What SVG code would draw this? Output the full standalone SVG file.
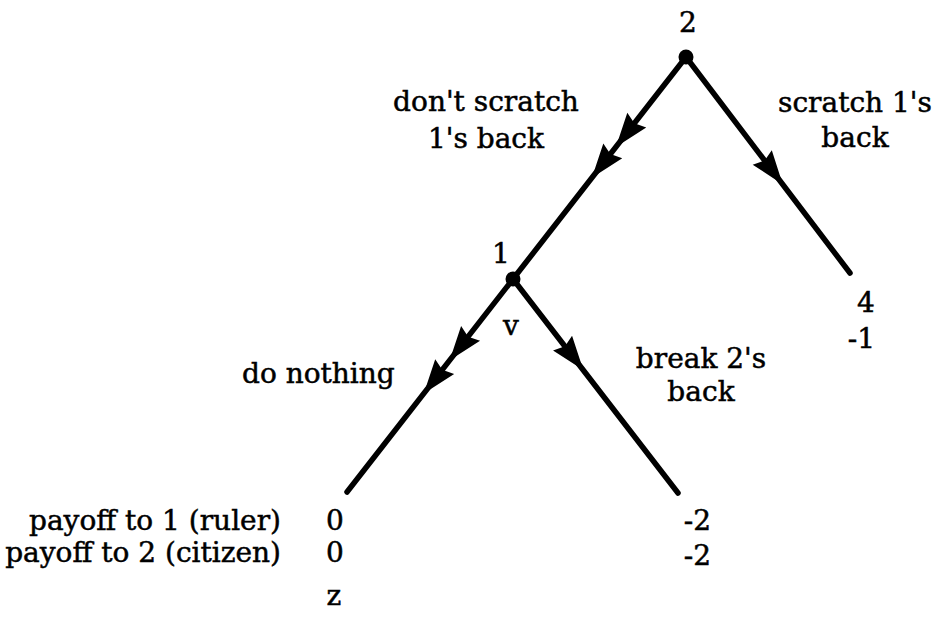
<svg xmlns="http://www.w3.org/2000/svg" xmlns:xlink="http://www.w3.org/1999/xlink" width="942" height="617" viewBox="0 0 942 617">
<style>
text{font-family:"DejaVu Serif","Liberation Serif",serif;font-size:28px;fill:#000;stroke:#000;stroke-width:0.5}
.c{text-anchor:middle}
.e{text-anchor:end}
.edge{stroke:#000;stroke-width:5.5;stroke-linecap:round;fill:none}
.dot{fill:#000}
</style>
<defs>
<path id="head" d="M0,0 L-34,-12 L-30,0 L-34,12 Z" fill="#000"/>
</defs>
<rect width="942" height="617" fill="#fff"/>
<g id="connectors">
<line class="edge" x1="686" y1="57" x2="513" y2="279"/>
<line class="edge" x1="686" y1="57" x2="850" y2="273"/>
<line class="edge" x1="513" y1="279" x2="347" y2="492"/>
<line class="edge" x1="513" y1="279" x2="678" y2="493"/>
<use xlink:href="#head" transform="translate(615.9,146.9) rotate(127.9)"/>
<use xlink:href="#head" transform="translate(591.9,177.7) rotate(127.9)"/>
<use xlink:href="#head" transform="translate(449.7,360.3) rotate(127.9)"/>
<use xlink:href="#head" transform="translate(423.8,393.4) rotate(127.9)"/>
<use xlink:href="#head" transform="translate(782.8,184.5) rotate(52.8)"/>
<use xlink:href="#head" transform="translate(583.3,370.1) rotate(52.4)"/>
</g>
<g id="edge-labels">
<text class="c" x="486" y="111">don't scratch</text>
<text class="c" x="486" y="148">1's back</text>
<text class="c" x="855" y="112">scratch 1's</text>
<text class="c" x="855" y="147">back</text>
<text x="242" y="383">do nothing</text>
<text class="c" x="701" y="368">break 2's</text>
<text class="c" x="701" y="401">back</text>
</g>
<g id="node2">
<circle class="dot" cx="686" cy="57" r="7.5"/>
<text class="c" x="688" y="32">2</text>
</g>
<g id="node1">
<circle class="dot" cx="513" cy="279" r="7.5"/>
<text class="c" x="501" y="263">1</text>
<text class="c" x="511" y="335">v</text>
</g>
<g id="leaf-z">
<text class="e" x="281" y="530">payoff to 1 (ruler)</text>
<text class="e" x="281" y="562">payoff to 2 (citizen)</text>
<text class="c" x="335" y="530">0</text>
<text class="c" x="335" y="562">0</text>
<text class="c" x="334" y="605">z</text>
</g>
<g id="leaf-break">
<text class="e" x="711" y="530">-2</text>
<text class="e" x="711" y="565">-2</text>
</g>
<g id="leaf-scratch">
<text class="c" x="866" y="312">4</text>
<text class="e" x="875" y="348">-1</text>
</g>
</svg>
